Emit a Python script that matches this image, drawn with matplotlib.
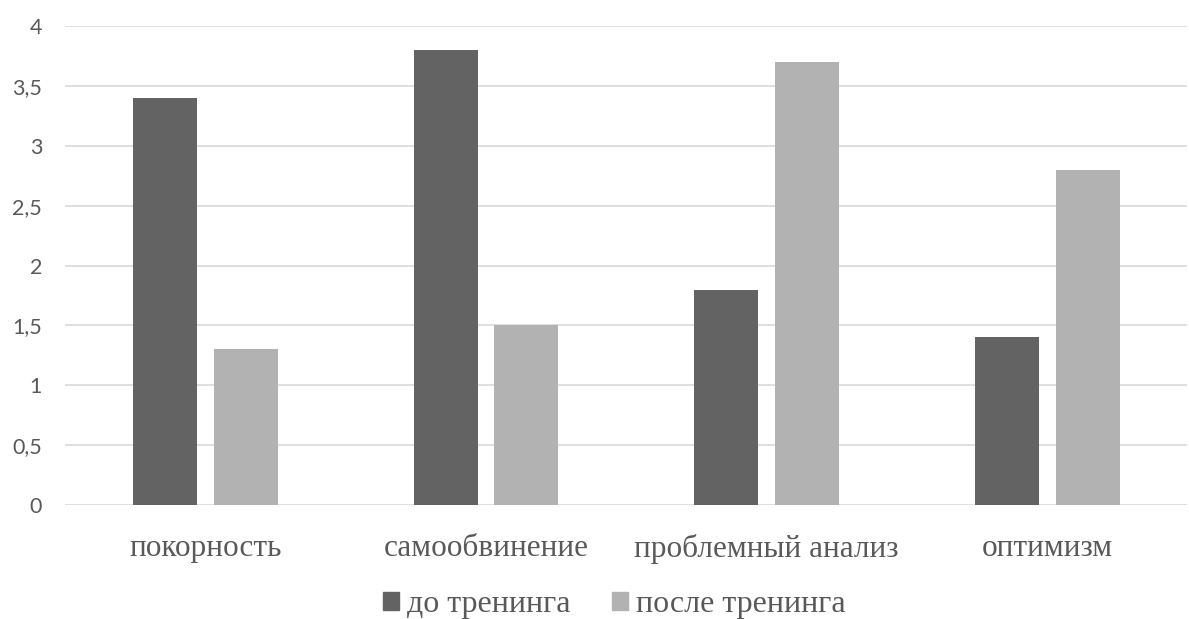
import matplotlib
matplotlib.use("Agg")
import matplotlib.pyplot as plt
import numpy as np
from matplotlib.patches import Patch

# Coping-strategy scores before and after the training
categories = ["покорность", "самообвинение", "проблемный анализ", "оптимизм"]
before = [3.4, 3.8, 1.8, 1.4]
after = [1.3, 1.5, 3.7, 2.8]
series_names = ["до тренинга", "после тренинга"]
yticks = [0, 0.5, 1, 1.5, 2, 2.5, 3, 3.5, 4]

DARK = "#636363"
LIGHT = "#b2b2b2"
GRID = "#d9d9d9"
TEXT = "#595959"

fig = plt.figure(figsize=(11.89, 6.19), dpi=100)
ax = fig.add_axes([0.0547, 0.184, 0.944, 0.774])

x = np.arange(len(categories))
bw = 0.228
off = 0.144
ax.bar(x - off, before, bw, color=DARK, zorder=3)
ax.bar(x + off, after, bw, color=LIGHT, zorder=3)

ax.set_xlim(-0.5, len(categories) - 0.5)
ax.set_ylim(0, 4)
ax.set_yticks(yticks)
ax.set_yticklabels([f"{v:g}".replace(".", ",") for v in yticks],
                   fontfamily="Lato", fontsize=15.5, color=TEXT)
ax.tick_params(axis="y", length=0, pad=16.5)
ax.set_xticks(x)
ax.set_xticklabels(categories, fontfamily="Liberation Serif", fontsize=22.5, color=TEXT)
ax.tick_params(axis="x", length=0, pad=21)
ax.grid(axis="y", color=GRID, linewidth=1.2, zorder=0)
for s in ax.spines.values():
    s.set_visible(False)

handles = [Patch(color=DARK), Patch(color=LIGHT)]
fig.legend(handles, series_names, loc="center", bbox_to_anchor=(0.517, 0.023),
           ncol=2, frameon=False, handlelength=0.5, handleheight=0.5,
           handletextpad=0.25, columnspacing=1.3,
           prop={"family": "Liberation Serif", "size": 23}, labelcolor=TEXT)

fig.savefig("out.png", dpi=100)
